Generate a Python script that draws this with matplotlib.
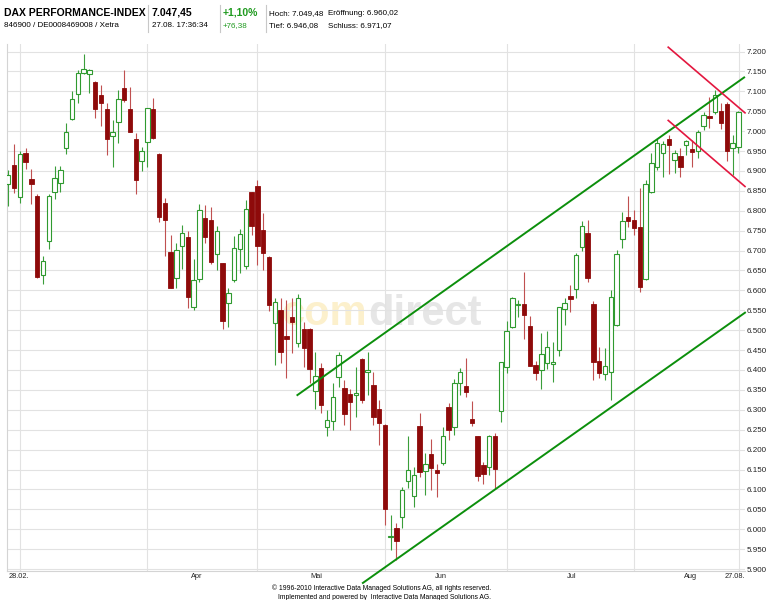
import matplotlib
matplotlib.use('Agg')
import matplotlib.pyplot as plt
from matplotlib.patches import Rectangle
from matplotlib.lines import Line2D

W, H = 768, 600

# daily candles, DAX, late Feb to 27.08.2010
opens = [6867, 6915, 6834, 6945, 6879, 6838, 6639, 6723, 6848, 6869,
         6957, 7030, 7094, 7146, 7144, 7123, 7091, 7055, 6988, 7024,
         7108, 7056, 6981, 6926, 6974, 7055, 6942, 6819, 6697, 6630,
         6712, 6735, 6558, 6628, 6781, 6777, 6691, 6668, 6568, 6625,
         6703, 6661, 6846, 6862, 6752, 6685, 6517, 6551, 6486, 6534,
         6467, 6502, 6503, 6347, 6404, 6258, 6273, 6383, 6354, 6340,
         6336, 6427, 6396, 6362, 6301, 6263, 5980, 6002, 6030, 6120,
         6083, 6259, 6145, 6188, 6150, 6167, 6308, 6256, 6367, 6360,
         6276, 6233, 6161, 6157, 6234, 6298, 6408, 6509, 6563, 6565,
         6511, 6413, 6400, 6417, 6414, 6449, 6552, 6586, 6603, 6708,
         6743, 6565, 6423, 6390, 6396, 6513, 6728, 6784, 6777, 6759,
         6628, 6847, 6909, 6945, 6980, 6928, 6938, 6965, 6955, 6949,
         7013, 7037, 7048, 7051, 7068, 6957, 6960.02]
highs = [6903, 6968, 6951, 6957, 6904, 6842, 6687, 6842, 6913, 6913,
         7020, 7100, 7154, 7194, 7156, 7125, 7115, 7072, 7028, 7104,
         7154, 7112, 6995, 6961, 7059, 7083, 6945, 6831, 6739, 6718,
         6764, 6748, 6678, 6816, 6815, 6809, 6762, 6670, 6605, 6737,
         6754, 6826, 6848, 6878, 6794, 6687, 6580, 6580, 6576, 6580,
         6590, 6521, 6506, 6446, 6417, 6300, 6367, 6446, 6375, 6351,
         6408, 6429, 6444, 6396, 6325, 6265, 6035, 6015, 6107, 6233,
         6157, 6291, 6191, 6226, 6165, 6256, 6316, 6377, 6406, 6431,
         6321, 6234, 6170, 6237, 6241, 6421, 6523, 6584, 6576, 6645,
         6536, 6423, 6494, 6498, 6471, 6559, 6580, 6614, 6693, 6775,
         6777, 6574, 6459, 6454, 6601, 6702, 6798, 6836, 6802, 6857,
         6878, 6945, 6980, 6976, 6991, 6953, 6957, 6978, 6978, 7003,
         7047, 7085, 7104, 7070, 7074, 6991, 7049.48]
lows = [6811, 6844, 6819, 6904, 6816, 6630, 6615, 6704, 6830, 6848,
        6943, 7028, 7072, 7144, 7095, 7032, 7013, 6939, 6909, 6971,
        7074, 6997, 6842, 6900, 6911, 6980, 6773, 6687, 6605, 6605,
        6653, 6555, 6551, 6620, 6718, 6666, 6652, 6502, 6509, 6622,
        6643, 6653, 6739, 6664, 6651, 6547, 6413, 6417, 6379, 6442,
        6459, 6407, 6367, 6301, 6293, 6233, 6249, 6358, 6262, 6249,
        6283, 6316, 6337, 6262, 6212, 6011, 5948, 5923, 6002, 6103,
        6057, 6132, 6086, 6099, 6082, 6161, 6224, 6237, 6337, 6333,
        6260, 6122, 6113, 6136, 6100, 6270, 6392, 6505, 6534, 6477,
        6409, 6375, 6352, 6402, 6371, 6436, 6513, 6545, 6580, 6700,
        6622, 6375, 6379, 6375, 6325, 6510, 6706, 6758, 6739, 6597,
        6626, 6844, 6903, 6884, 6893, 6894, 6884, 6940, 6911, 6932,
        7003, 7007, 7043, 7005, 6924, 6890, 6946.08]
closes = [6890, 6857, 6943, 6922, 6868, 6633, 6674, 6837, 6882, 6903,
          6997, 7080, 7146, 7157, 7154, 7056, 7070, 6981, 6997, 7080,
          7079, 6999, 6878, 6949, 7058, 6982, 6785, 6777, 6607, 6702,
          6745, 6584, 6626, 6801, 6734, 6672, 6750, 6524, 6593, 6706,
          6742, 6804, 6762, 6712, 6695, 6563, 6572, 6446, 6477, 6520,
          6582, 6455, 6403, 6386, 6312, 6274, 6333, 6438, 6289, 6319,
          6342, 6325, 6400, 6283, 6266, 6052, 5983, 5971, 6099, 6149,
          6135, 6143, 6164, 6155, 6142, 6233, 6249, 6367, 6394, 6344,
          6266, 6134, 6139, 6233, 6152, 6419, 6498, 6580, 6567, 6538,
          6411, 6392, 6440, 6457, 6421, 6558, 6568, 6579, 6689, 6762,
          6632, 6419, 6393, 6410, 6584, 6692, 6775, 6775, 6756, 6608,
          6867, 6921, 6970, 6967, 6966, 6945, 6911, 6976, 6947, 6997,
          7041, 7033, 7091, 7020, 6950, 6971.07, 7047.45]

# hand drawn trend lines (candle index, price)
green_top_x = [49.9, 127.0]
green_top_y = [6337, 7135]
green_bot_x = [61.2, 127.15]
green_bot_y = [5865, 6544]
red_top_x = [113.9, 127.15]
red_top_y = [7211, 7046]
red_bot_x = [113.9, 127.15]
red_bot_y = [7027, 6861]

month_grid = [2, 24, 43, 65, 86, 108]
xtick_pos = [1.9, 32.6, 53.1, 74.7, 97.3, 117.8, 125.4]
xtick_labels = ['28.02.', 'Apr', 'Mai', 'Jun', 'Jul', 'Aug', '27.08.']
ytick_vals = list(range(5900, 7201, 50))

plt.rcParams['font.family'] = ['Liberation Sans', 'DejaVu Sans']

fig = plt.figure(figsize=(W / 100, H / 100), dpi=100)
fig.patch.set_facecolor('white')


def px(x, y):
    # figure pixel (from top-left) -> figure fraction
    return x / W, 1 - y / H


ax = fig.add_axes([7 / W, 29 / H, 738 / W, 527 / H])
ax.set_xlim(-0.22, 127.15)
ax.set_ylim(5895, 7219)

for v in ytick_vals:
    ax.axhline(v, color='#e2e2e2', lw=0.8, zorder=1)
for g in month_grid:
    ax.axvline(g, color='#e2e2e2', lw=0.8, zorder=1)
ax.axvline(126.2, color='#e2e2e2', lw=0.8, zorder=1)

# watermark, under the grid
ax.text(*px(367, 325), 'com', color='#fcf0cc', fontsize=30, fontweight='bold',
        ha='right', va='baseline', transform=fig.transFigure, zorder=0.5)
ax.text(*px(368, 325), 'direct', color='#e6e6e6', fontsize=30, fontweight='bold',
        ha='left', va='baseline', transform=fig.transFigure, zorder=0.5)

green_edge = '#2f9a2f'
green_wick = '#3a9e3a'
red_fill = '#8e0a0a'
red_wick = '#c05050'

for i, (o, h, l, c) in enumerate(zip(opens, highs, lows, closes)):
    up = c >= o
    ax.plot([i, i], [l, h], color=green_wick if up else red_wick, lw=0.8,
            solid_capstyle='butt', zorder=3)
    lo = min(o, c)
    hgt = max(abs(c - o), 2.5)
    if up:
        ax.add_patch(Rectangle((i - 0.38, lo), 0.76, hgt, facecolor='white',
                               edgecolor=green_edge, lw=0.8, zorder=4))
    else:
        ax.add_patch(Rectangle((i - 0.38, lo), 0.76, hgt, facecolor=red_fill,
                               edgecolor=red_fill, lw=0.6, zorder=4))

ax.plot(green_top_x, green_top_y, color='#0c8f0c', lw=1.4, zorder=5, clip_on=False)
ax.plot(green_bot_x, green_bot_y, color='#0c8f0c', lw=1.4, zorder=5, clip_on=False)
ax.plot(red_top_x, red_top_y, color='#e3173f', lw=1.2, zorder=5, clip_on=False)
ax.plot(red_bot_x, red_bot_y, color='#e3173f', lw=1.2, zorder=5, clip_on=False)

ax.yaxis.tick_right()
ax.set_yticks(ytick_vals)
ax.set_yticklabels([f'{v:,}'.replace(',', '.') for v in ytick_vals])
ax.set_xticks(xtick_pos)
ax.set_xticklabels(xtick_labels)
ax.tick_params(axis='y', length=0, pad=1.5, labelsize=5.8, labelcolor='#222222')
ax.tick_params(axis='x', length=0, pad=1.5, labelsize=5.3, labelcolor='#222222')
for s in ['top', 'right']:
    ax.spines[s].set_visible(False)
for s in ['left', 'bottom']:
    ax.spines[s].set_color('#d4d4d4')
    ax.spines[s].set_linewidth(0.8)

# header
fig.text(*px(4, 15.7), 'DAX PERFORMANCE-INDEX', fontsize=7.5, fontweight='bold', va='baseline')
fig.text(*px(4, 26.7), '846900 / DE0008469008 / Xetra', fontsize=5.8, va='baseline')
fig.text(*px(152, 15.7), '7.047,45', fontsize=7.5, fontweight='bold', va='baseline')
fig.text(*px(152, 26.7), '27.08. 17:36:34', fontsize=5.8, va='baseline')
fig.text(*px(223, 15.7), '+1,10%', fontsize=7.5, fontweight='bold', va='baseline', color='#1f9a1f')
fig.text(*px(223, 26.7), '+76,38', fontsize=5.8, va='baseline', color='#1f9a1f')
fig.text(*px(269, 15.3), 'Hoch: 7.049,48', fontsize=5.8, va='baseline')
fig.text(*px(328, 15.3), 'Eröffnung: 6.960,02', fontsize=5.8, va='baseline')
fig.text(*px(269, 26.7), 'Tief: 6.946,08', fontsize=5.8, va='baseline')
fig.text(*px(328, 26.7), 'Schluss: 6.971,07', fontsize=5.8, va='baseline')
for sx in [148.3, 220, 265.7]:
    fig.add_artist(Line2D([sx / W, sx / W], [1 - 5 / H, 1 - 32 / H],
                          color='#c8c8c8', lw=0.8))

# footer
fig.text(*px(382, 590.5), '© 1996-2010 Interactive Data Managed Solutions AG, all rights reserved.',
         fontsize=4.9, ha='center', va='baseline')
fig.text(*px(384, 599), 'Implemented and powered by  Interactive Data Managed Solutions AG.',
         fontsize=4.9, ha='center', va='baseline')

fig.savefig('out.png', dpi=100)
